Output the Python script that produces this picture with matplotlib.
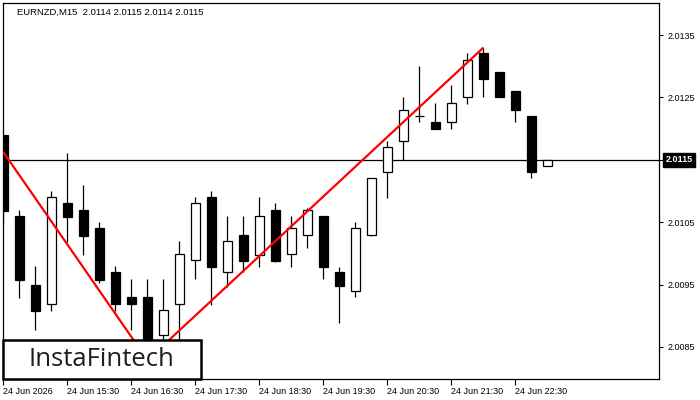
"""
EURNZD M15 candlestick chart with a double-bottom style pattern line.
"""

import matplotlib
matplotlib.use('Agg')
import matplotlib.pyplot as plt
import matplotlib.transforms as mtransforms
from matplotlib.patches import Rectangle


# candle data, one row per 15-minute bar starting 24 Jun 14:30
opens = [2.01190, 2.01060, 2.00949, 2.00919, 2.01081, 2.01070, 2.01041, 2.00970,
         2.00930, 2.00930, 2.00869, 2.00919, 2.00989, 2.01090, 2.00970, 2.01030,
         2.00997, 2.01070, 2.00999, 2.01030, 2.01060, 2.00970, 2.00940, 2.01029,
         2.01130, 2.01180, 2.01220, 2.01211, 2.01211, 2.01251, 2.01321, 2.01291,
         2.01260, 2.01220, 2.01140]
highs = [2.01190, 2.01070, 2.00980, 2.01100, 2.01161, 2.01110, 2.01050, 2.00980,
         2.00959, 2.00959, 2.00959, 2.01020, 2.01090, 2.01100, 2.01060, 2.01060,
         2.01090, 2.01081, 2.01060, 2.01072, 2.01060, 2.00978, 2.01050, 2.01121,
         2.01180, 2.01251, 2.01300, 2.01241, 2.01270, 2.01321, 2.01329, 2.01291,
         2.01260, 2.01220, 2.01150]
lows = [2.01049, 2.00929, 2.00877, 2.00908, 2.01018, 2.00997, 2.00953, 2.00908,
        2.00877, 2.00829, 2.00840, 2.00850, 2.00959, 2.00917, 2.00946, 2.00970,
        2.00978, 2.00987, 2.00978, 2.01009, 2.00959, 2.00889, 2.00930, 2.01028,
        2.01089, 2.01150, 2.01211, 2.01200, 2.01200, 2.01239, 2.01251, 2.01251,
        2.01211, 2.01121, 2.01140]
closes = [2.01068, 2.00957, 2.00908, 2.01090, 2.01058, 2.01028, 2.00957, 2.00919,
          2.00919, 2.00840, 2.00909, 2.00999, 2.01081, 2.00978, 2.01020, 2.00988,
          2.01060, 2.00988, 2.01041, 2.01070, 2.00978, 2.00948, 2.01041, 2.01121,
          2.01170, 2.01230, 2.01221, 2.01200, 2.01241, 2.01310, 2.01280, 2.01251,
          2.01230, 2.01130, 2.01150]

# pattern line: (bar index, price)
pattern_x = [0, 9, 30]
pattern_y = [2.01162, 2.00829, 2.01330]

last_price = 2.0115
title = 'EURNZD,M15  2.0114 2.0115 2.0114 2.0115'

price_ticks = [2.0085, 2.0095, 2.0105, 2.0115, 2.0125, 2.0135]
price_labels = ['2.0085', '2.0095', '2.0105', '', '2.0125', '2.0135']
time_ticks = [0, 4, 8, 12, 16, 20, 24, 28, 32]
time_labels = ['24 Jun 2026', '24 Jun 15:30', '24 Jun 16:30', '24 Jun 17:30',
               '24 Jun 18:30', '24 Jun 19:30', '24 Jun 20:30', '24 Jun 21:30',
               '24 Jun 22:30']

plt.rcParams['font.family'] = ['Liberation Sans', 'DejaVu Sans']

fig = plt.figure(figsize=(7, 4), dpi=100)
ax = fig.add_axes([3 / 700, 21 / 400, 656 / 700, 376 / 400])

idx = list(range(len(opens)))
ax.vlines(idx, lows, highs, color='black', lw=0.9, zorder=2)
bottoms = [min(o, c) for o, c in zip(opens, closes)]
heights = [abs(c - o) for o, c in zip(opens, closes)]
faces = ['white' if c >= o else 'black' for o, c in zip(opens, closes)]
ax.bar(idx, heights, bottom=bottoms, width=0.62, color=faces,
       edgecolor='black', linewidth=0.9, zorder=3)

ax.axhline(last_price, color='black', lw=0.9, zorder=1)
ax.plot(pattern_x, pattern_y, color='#ff0000', lw=1.6, zorder=4,
        solid_capstyle='butt')

ax.set_xlim(-0.03, 40.97)
ax.set_ylim(2.007987, 2.014013)

ax.yaxis.tick_right()
ax.set_yticks(price_ticks)
ax.set_yticklabels(price_labels)
ax.set_xticks(time_ticks)
ax.set_xticklabels(time_labels, ha='left')
ax.tick_params(axis='y', length=3, width=0.8, pad=3, labelsize=6.5)
ax.tick_params(axis='x', length=4, width=0.8, pad=2, labelsize=6.5)
for sp in ax.spines.values():
    sp.set_linewidth(0.9)

# current price tag on the right axis
trans = mtransforms.blended_transform_factory(ax.transAxes, ax.transData)
ax.text(1.01, last_price, '2.0115', transform=trans, color='white',
        fontsize=6.5, va='center', ha='left', fontweight='bold',
        bbox=dict(boxstyle='square,pad=0.25', fc='black', ec='black'))

fig.text(17 / 700, 1 - 12.5 / 400, title, fontsize=6.8, va='center', ha='left')

# logo box
fig.patches.append(Rectangle((3 / 700, 21 / 400), 198 / 700, 39 / 400,
                             transform=fig.transFigure, fc='white', ec='black',
                             lw=1.8, zorder=5))
fig.text(101 / 700, 1 - 359 / 400, 'InstaFintech', fontsize=18.5,
         family=['Open Sans', 'DejaVu Sans'], fontweight='medium',
         color='#1e1e1e', ha='center', va='center', zorder=6)

fig.savefig('out.png', dpi=100)
